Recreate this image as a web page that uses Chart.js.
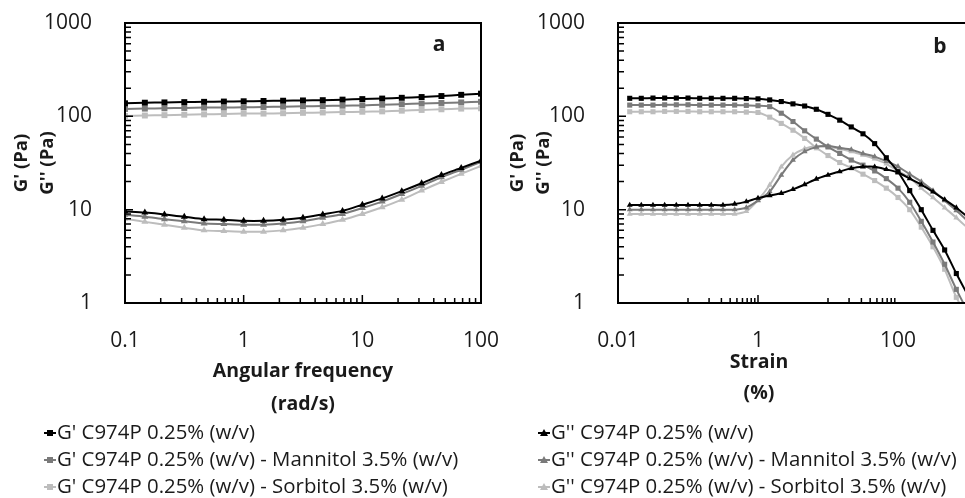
<!DOCTYPE html>
<html>
<head>
<meta charset="utf-8">
<script src="https://cdn.jsdelivr.net/npm/chart.js@4.4.1/dist/chart.umd.min.js"></script>
<style>
  body { margin: 0; width: 965px; height: 498px; overflow: hidden; background: #fff; position: relative; font-family: "Open Sans", sans-serif; }
  #boxA { position: absolute; left: 0; top: 0; }
  #boxB { position: absolute; left: 493px; top: 0; }
  .legend { position: absolute; top: 418px; font-size: 20.4px; line-height: 27px; color: #1a1a1a; white-space: nowrap; }
  .legend canvas { vertical-align: middle; margin-right: 1px; position: relative; top: -1px; }
</style>
</head>
<body>
<canvas id="boxA" width="501" height="420"></canvas>
<canvas id="boxB" width="480" height="420"></canvas>
<div class="legend" id="legLeft" style="left:44px"></div>
<div class="legend" id="legRight" style="left:538px"></div>
<script>
// panel a - frequency sweep
const freq = [0.1, 0.147, 0.215, 0.316, 0.464, 0.681, 1, 1.47, 2.15, 3.16, 4.64, 6.81, 10, 14.7, 21.5, 31.6, 46.4, 68.1, 100];
const freqGp = [138, 140, 141, 142, 143, 144, 145, 146, 147, 148, 149, 151, 153, 155, 158, 161, 165, 170, 175];
const freqGpMan = [120, 121, 122, 123, 124, 124, 125, 126, 127, 128, 129, 130, 131, 133, 135, 137, 139, 141, 143];
const freqGpSor = [101, 102, 103, 104, 105, 106, 107, 107, 108, 109, 110, 111, 112, 113, 115, 117, 119, 121, 122];
const freqGpp = [9.6, 9.3, 8.9, 8.4, 7.9, 7.8, 7.6, 7.6, 7.8, 8.2, 8.9, 9.7, 11.3, 13.2, 15.8, 19.2, 23.5, 28, 33.5];
const freqGppMan = [8.8, 8.4, 7.9, 7.5, 7.1, 7.0, 6.9, 6.9, 7.1, 7.5, 8.2, 9.0, 10.4, 12.2, 14.7, 18.0, 22.2, 26.8, 32.5];
const freqGppSor = [8.0, 7.4, 6.9, 6.4, 6.0, 5.9, 5.8, 5.8, 6.0, 6.4, 7.0, 7.8, 9.0, 10.6, 12.8, 16.0, 19.8, 24.2, 29.5];

// panel b - strain sweep
const strain = [0.0147, 0.0215, 0.0316, 0.0464, 0.0681, 0.1, 0.147, 0.215, 0.316, 0.464, 0.681, 1, 1.47, 2.15, 3.16, 4.64, 6.81, 10, 14.7, 21.5, 31.6, 46.4, 68.1, 100, 147, 215, 316, 464, 681, 1000];
const strainGp = [156, 156, 157, 157, 157, 157, 156, 156, 156, 156, 155, 154, 150, 144, 136, 129, 119, 105, 91, 77, 65, 51, 36, 25.5, 16, 10, 6.0, 3.7, 2.07, 1.2];
const strainGpMan = [132, 132, 132, 133, 133, 133, 132, 132, 132, 132, 131, 130, 127, 108, 88, 70, 57, 47, 40, 34, 30, 26, 21.5, 17, 12, 7.5, 4.5, 2.6, 1.4, 0.8];
const strainGpSor = [112, 112, 112, 113, 113, 113, 112, 112, 112, 112, 111, 110, 98, 84, 71, 58, 46, 38, 32, 28, 24, 20.5, 17, 13.5, 10, 6.5, 4.0, 2.3, 1.15, 0.7];
const strainGpp = [11.2, 11.2, 11.2, 11.2, 11.2, 11.2, 11.2, 11.2, 11.2, 11.5, 12.2, 13.3, 14.2, 15, 16.5, 18.6, 21.3, 23.5, 25.6, 27.7, 28.8, 28.8, 27, 25, 21.5, 18.5, 15.5, 12.8, 10.5, 8.3];
const strainGppMan = [10, 10, 10, 10, 10, 10, 10, 10, 10, 10, 10.5, 12.5, 15.6, 23.5, 34, 42, 47, 48, 46, 44, 40, 37, 33, 29, 24, 20, 16, 12.5, 9.8, 7.5];
const strainGppSor = [9, 9, 9, 9, 9, 9, 9, 9, 9, 9, 9.6, 12.7, 18.4, 28.8, 38.5, 45, 48, 47, 45, 42, 38.5, 35, 31, 26, 22, 17, 13.5, 10.5, 8.2, 6.3];

const yTicks = [1, 10, 100, 1000];
const freqTicks = [0.1, 1, 10, 100];
const strainTicks = [0.01, 1, 100];

const gpNames = ["G' C974P 0.25% (w/v)", "G' C974P 0.25% (w/v) - Mannitol 3.5% (w/v)", "G' C974P 0.25% (w/v) - Sorbitol 3.5% (w/v)"];
const gppNames = ["G'' C974P 0.25% (w/v)", "G'' C974P 0.25% (w/v) - Mannitol 3.5% (w/v)", "G'' C974P 0.25% (w/v) - Sorbitol 3.5% (w/v)"];
const colors = ["#000000", "#7a7a7a", "#bdbdbd"];

const FONT = "'Open Sans', sans-serif";

function toPoints(xs, ys) {
  return xs.map((x, i) => ({ x: x, y: ys[i] }));
}

function makeSets(xs, gp, gpp, sq, tri) {
  const sets = [];
  gp.forEach((ys, i) => {
    sets.push({
      label: gpNames[i], data: toPoints(xs, ys),
      borderColor: colors[i], backgroundColor: colors[i],
      pointStyle: "rect", pointRadius: sq, pointBorderWidth: 0, borderWidth: 2, tension: 0.25
    });
  });
  gpp.forEach((ys, i) => {
    sets.push({
      label: gppNames[i], data: toPoints(xs, ys),
      borderColor: colors[i], backgroundColor: colors[i],
      pointStyle: "triangle", pointRadius: tri, pointBorderWidth: 0, borderWidth: 2, tension: 0.25
    });
  });
  // first dataset is painted last, so black ends up on top
  return [sets[0], sets[3], sets[1], sets[4], sets[2], sets[5]];
}

// frame, inward log ticks, x title and panel letter
const framePlugin = {
  id: "frame",
  afterDatasetsDraw(chart, args, opts) {
    const { ctx, chartArea: a, scales } = chart;
    ctx.save();
    ctx.strokeStyle = "#000";
    ctx.lineWidth = 1.5;
    ctx.beginPath();
    const marks = (scale, majors, horiz) => {
      for (let i = 0; i < majors.length; i++) {
        const lo = majors[i];
        if (i > 0 && i < majors.length - 1) {
          const p = scale.getPixelForValue(lo);
          if (horiz) { ctx.moveTo(p, a.bottom); ctx.lineTo(p, a.bottom - 8); }
          else { ctx.moveTo(a.left, p); ctx.lineTo(a.left + 8, p); }
        }
        if (i === majors.length - 1) break;
        const step = majors[i + 1] / 10;
        for (let m = 1; m <= 9; m++) {
          const v = step * m;
          if (v <= lo * 1.0001) continue;
          const p = scale.getPixelForValue(v);
          if (horiz) { ctx.moveTo(p, a.bottom); ctx.lineTo(p, a.bottom - 5); }
          else { ctx.moveTo(a.left, p); ctx.lineTo(a.left + 6, p); }
        }
      }
    };
    marks(scales.x, opts.xMajors, true);
    marks(scales.y, yTicks, false);
    ctx.stroke();
    ctx.lineWidth = 2;
    ctx.strokeRect(a.left, a.top, a.right - a.left, a.bottom - a.top);

    ctx.fillStyle = "#1a1a1a";
    ctx.textAlign = "center";
    ctx.textBaseline = "middle";
    ctx.font = "bold 21px " + FONT;
    ctx.fillText(opts.letter, a.right - opts.dx, a.top + opts.dy);

    ctx.font = "bold 19.5px " + FONT;
    const cx = (a.left + a.right) / 2 + opts.titleShift;
    opts.xTitle.forEach((line, i) => {
      ctx.fillText(line, cx, opts.titleY + i * opts.titleLH);
    });
    ctx.restore();
  }
};

function makeChart(id, xs, xMajors, gp, gpp, sq, tri, opts) {
  return new Chart(document.getElementById(id).getContext("2d"), {
    type: "line",
    data: { datasets: makeSets(xs, gp, gpp, sq, tri) },
    options: {
      responsive: false,
      animation: false,
      events: [],
      layout: { padding: { top: 23, right: opts.padRight, bottom: 0, left: 0 } },
      plugins: {
        legend: { display: false },
        tooltip: { enabled: false },
        frame: opts
      },
      scales: {
        x: {
          type: "logarithmic",
          min: xMajors[0], max: opts.xMax,
          afterBuildTicks: (s) => { s.ticks = xMajors.map(v => ({ value: v })); },
          afterFit: (s) => { s.height = 117; s.paddingLeft = 0; s.paddingRight = 0; },
          grid: { display: false },
          border: { display: false },
          ticks: { autoSkip: false, maxRotation: 0, padding: 17, color: "#1a1a1a",
                   font: { family: FONT, size: 21 }, callback: (v) => String(v) }
        },
        y: {
          type: "logarithmic",
          min: 1, max: 1000,
          afterBuildTicks: (s) => { s.ticks = yTicks.map(v => ({ value: v })); },
          afterFit: (s) => { s.width = 125; s.paddingTop = 0; s.paddingBottom = 0; },
          grid: { display: false },
          border: { display: false },
          ticks: { autoSkip: false, padding: 25, color: "#1a1a1a",
                   font: { family: FONT, size: 21 }, callback: (v) => String(v) },
          title: { display: true, text: ["G' (Pa)", "G'' (Pa)"], color: "#1a1a1a",
                   font: { family: FONT, size: 18.5, weight: "bold", lineHeight: "26px" },
                   padding: { top: opts.yTitlePad, bottom: 0 } }
        }
      }
    },
    plugins: [framePlugin]
  });
}

makeChart("boxA", freq, freqTicks, [freqGp, freqGpMan, freqGpSor], [freqGpp, freqGppMan, freqGppSor], 4.2, 4,
  { padRight: 20, xMax: 100, xMajors: freqTicks, letter: "a", dx: 42, dy: 22,
    xTitle: ["Angular frequency", "(rad/s)"], titleShift: 0, titleY: 371, titleLH: 33, yTitlePad: 9 });

makeChart("boxB", strain, strainTicks, [strainGp, strainGpMan, strainGpSor], [strainGpp, strainGppMan, strainGppSor], 3.6, 3.4,
  { padRight: 5, xMax: 1000, xMajors: strainTicks, letter: "b", dx: 28, dy: 24,
    xTitle: ["Strain", "(%)"], titleShift: -34, titleY: 362, titleLH: 31, yTitlePad: 12 });

// legend rows with a small line + marker swatch
function swatch(color, style) {
  const c = document.createElement("canvas");
  c.width = 12; c.height = 12;
  const g = c.getContext("2d");
  g.strokeStyle = color; g.fillStyle = color; g.lineWidth = 2;
  g.beginPath(); g.moveTo(0, 6); g.lineTo(12, 6); g.stroke();
  g.beginPath();
  if (style === "rect") g.rect(3, 3, 6, 6);
  else { g.moveTo(6, 2); g.lineTo(10, 9); g.lineTo(2, 9); g.closePath(); }
  g.fill();
  return c;
}
function fillLegend(id, names, style) {
  const box = document.getElementById(id);
  names.forEach((n, i) => {
    const row = document.createElement("div");
    row.appendChild(swatch(colors[i], style));
    row.appendChild(document.createTextNode(n));
    box.appendChild(row);
  });
}
fillLegend("legLeft", gpNames, "rect");
fillLegend("legRight", gppNames, "triangle");
</script>
</body>
</html>
